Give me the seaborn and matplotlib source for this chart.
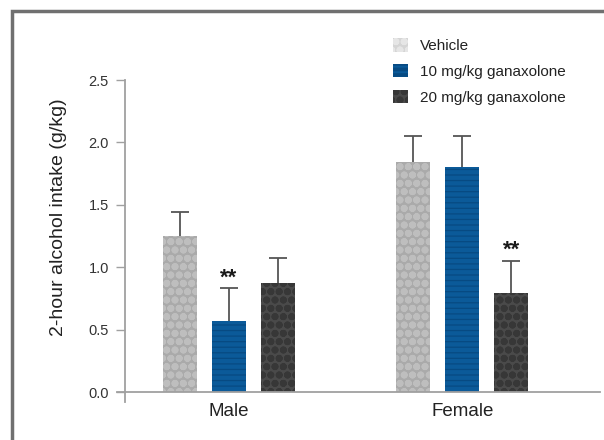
import numpy as np
import pandas as pd
import matplotlib
matplotlib.use("Agg")
import matplotlib.pyplot as plt
from matplotlib.patches import Patch
from matplotlib.lines import Line2D
import seaborn as sns

# data
sexes = ["Male", "Female"]
groups = ["Vehicle", "10 mg/kg ganaxolone", "20 mg/kg ganaxolone"]
mean_male = [1.25, 0.57, 0.87]
mean_female = [1.84, 1.80, 0.79]
sem_male = [0.19, 0.26, 0.20]
sem_female = [0.21, 0.25, 0.26]
stars_male = ["", "**", ""]
stars_female = ["", "", "**"]
y_ticks = [0.0, 0.5, 1.0, 1.5, 2.0, 2.5]

# bar styles: face colour, hatch colour, hatch, hatch linewidth
face_cols = ["#aaaaaa", "#0b5a99", "#4a4a4a"]
hatch_cols = ["#bebebe", "#074a82", "#373737"]
hatches = ["oo", "---", "oo"]
hatch_lw = [2.6, 0.9, 2.6]

df = pd.DataFrame({
    "sex": np.repeat(sexes, len(groups)),
    "group": groups * len(sexes),
    "intake": mean_male + mean_female,
    "sem": sem_male + sem_female,
    "stars": stars_male + stars_female,
})

sns.set_style("white")
plt.rcParams["font.family"] = ["Liberation Sans", "DejaVu Sans"]
plt.rcParams["hatch.linewidth"] = 2.6

fig = plt.figure(figsize=(6.04, 4.4), dpi=100)
ax = fig.add_axes([117 / 604, 1 - 402 / 440, 483 / 604, 322 / 440])

sns.barplot(data=df, x="sex", y="intake", hue="group", order=sexes,
            hue_order=groups, palette=face_cols, width=0.63, gap=0.3,
            errorbar=None, legend=False, saturation=1, ax=ax)

# apply patterns and error bars per hue level
bar_conts = list(ax.containers)
for i, cont in enumerate(bar_conts):
    sub = df[df["group"] == groups[i]].set_index("sex").loc[sexes]
    xs, ys = [], []
    for bar in cont:
        bar.set_facecolor(face_cols[i])
        bar.set_edgecolor(hatch_cols[i])
        bar.set_linewidth(0)
        bar.set_hatch(hatches[i])
        if hasattr(bar, "set_hatch_linewidth"):
            bar.set_hatch_linewidth(hatch_lw[i])
        xs.append(bar.get_x() + bar.get_width() / 2)
        ys.append(bar.get_height())
    errs = sub["sem"].to_numpy()
    eb = ax.errorbar(xs, ys, yerr=[np.zeros_like(errs), errs], fmt="none",
                     ecolor="#555555", elinewidth=1.3, capsize=6.5, capthick=1.3,
                     zorder=0.5)
    # hide the lower cap sitting on top of the bar
    eb.lines[1][0].set_visible(False)
    for x, y, e, s in zip(xs, ys, errs, sub["stars"]):
        if s:
            ax.annotate(s, (x, y + e), xytext=(0, 0), textcoords="offset points",
                        ha="center", va="bottom", fontsize=16, fontweight="bold",
                        color="#1a1a1a")

# axes styling
ax.set_xlim(-0.48, 1.59)
ax.set_ylim(-0.08, 2.5)
ax.set_yticks(y_ticks)
ax.set_yticklabels([f"{t:.1f}" for t in y_ticks])
ax.spines["top"].set_visible(False)
ax.spines["right"].set_visible(False)
ax.spines["left"].set_position(("data", -0.446))
ax.spines["bottom"].set_position(("data", 0))
for sp in ["left", "bottom"]:
    ax.spines[sp].set_color("#a0a0a0")
    ax.spines[sp].set_linewidth(1.3)
ax.tick_params(axis="y", length=6.5, width=1, color="#a0a0a0", labelsize=10.5,
               labelcolor="#333333", pad=5, left=True)
ax.tick_params(axis="x", length=0, labelsize=13.5, labelcolor="#222222", pad=8)
ax.set_xlabel("")
ax.set_ylabel("2-hour alcohol intake (g/kg)", fontsize=14, color="#222222")
ax.yaxis.set_label_coords(-0.103, 0.575)

# legend
handles = []
for i, g in enumerate(groups):
    fc = "#d5d5d5" if i == 0 else face_cols[i]
    hc = "#e6e6e6" if i == 0 else hatch_cols[i]
    p = Patch(facecolor=fc, edgecolor=hc, hatch=hatches[i], linewidth=0, label=g)
    if hasattr(p, "set_hatch_linewidth"):
        p.set_hatch_linewidth(hatch_lw[i])
    handles.append(p)
fig.legend(handles=handles, loc="upper left", bbox_to_anchor=(393 / 604, 1 - 38 / 440),
           bbox_transform=fig.transFigure, frameon=False, fontsize=11,
           handlelength=1.0, handleheight=1.0, handletextpad=0.75,
           labelspacing=0.7, borderpad=0, borderaxespad=0, labelcolor="#222222")

# outer frame (left and top edges)
fig.add_artist(Line2D([11.5 / 604, 11.5 / 604, 1.01], [-0.01, 1 - 11.5 / 440, 1 - 11.5 / 440],
                      transform=fig.transFigure, color="#707070", linewidth=2.5,
                      solid_capstyle="butt", solid_joinstyle="miter"))

fig.savefig("out.png", dpi=100, facecolor="white")
